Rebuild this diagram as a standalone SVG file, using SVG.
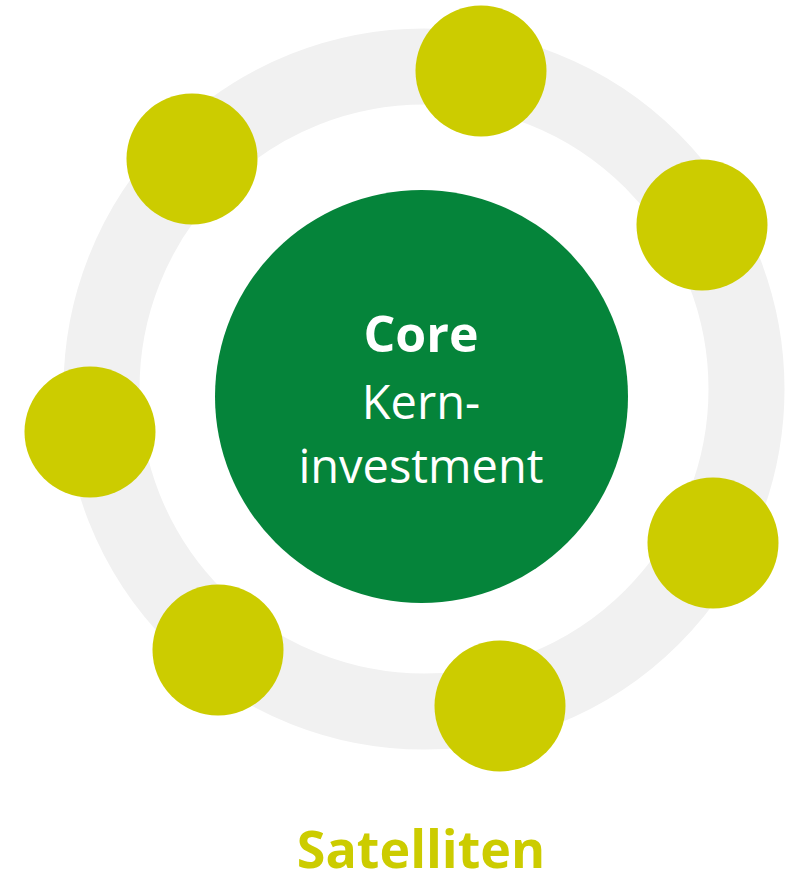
<svg xmlns="http://www.w3.org/2000/svg" width="795" height="882" viewBox="0 0 795 882">
<style>
.sat{fill:#cccc00}
.t{font-family:"Open Sans","Noto Sans",sans-serif;text-anchor:middle}
</style>
<rect width="795" height="882" fill="#ffffff"/>
<g id="ring"><circle cx="424" cy="389" r="322.5" fill="none" stroke="#f1f1f1" stroke-width="76"/></g>
<g id="core">
<circle cx="421.5" cy="396.5" r="206.5" fill="#05843a"/>
<text class="t" x="421" y="352" font-size="50" font-weight="bold" fill="#ffffff">Core</text>
<text class="t" x="421" y="419" font-size="47" fill="#ffffff">Kern-</text>
<text class="t" x="421" y="483" font-size="47" fill="#ffffff">investment</text>
</g>
<g id="sat1"><circle class="sat" cx="481" cy="71" r="65.5"/></g>
<g id="sat2"><circle class="sat" cx="192" cy="159" r="65.5"/></g>
<g id="sat3"><circle class="sat" cx="702" cy="225" r="65.5"/></g>
<g id="sat4"><circle class="sat" cx="90" cy="432" r="65.5"/></g>
<g id="sat5"><circle class="sat" cx="713" cy="543" r="65.5"/></g>
<g id="sat6"><circle class="sat" cx="218" cy="650" r="65.5"/></g>
<g id="sat7"><circle class="sat" cx="500" cy="706" r="65.5"/></g>
<g id="label"><text class="t" x="421" y="868" font-size="52" font-weight="bold" fill="#cccc00">Satelliten</text></g>
</svg>
